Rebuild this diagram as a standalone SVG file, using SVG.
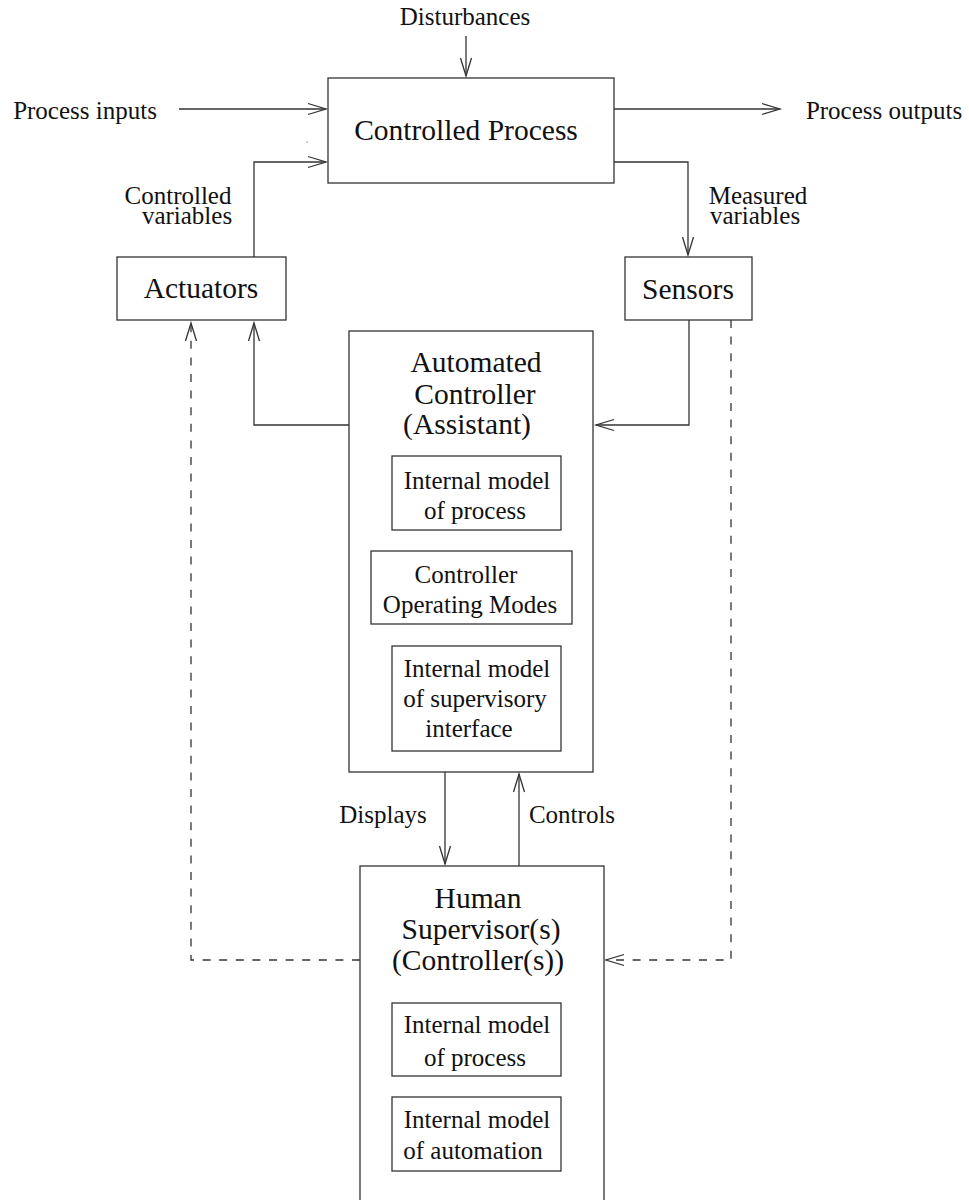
<svg xmlns="http://www.w3.org/2000/svg" width="969" height="1200" viewBox="0 0 969 1200">
<style>
text{font-family:"Liberation Serif","Times New Roman",serif;fill:#111;text-anchor:middle}
.big{font-size:29.5px}
.sm{font-size:25px}
.box{fill:#fff;stroke:#333;stroke-width:1.3}
.ln{fill:none;stroke:#333;stroke-width:1.3}
.dash{stroke-dasharray:8 8.6}
.ah{fill:none;stroke:#333;stroke-width:1.3;stroke-dasharray:none}
</style>
<defs>
<marker id="arr" markerUnits="userSpaceOnUse" markerWidth="24" markerHeight="16" refX="0" refY="0" viewBox="-20 -8 24 16" orient="auto" overflow="visible">
<path class="ah" d="M-18,-5.5 L0,0 L-18,5.5"/>
</marker>
</defs>
<rect width="969" height="1200" fill="#fff"/>

<g id="connectors">
<path class="ln" d="M466,36 V76" marker-end="url(#arr)"/>
<path class="ln" d="M179,109 H326" marker-end="url(#arr)"/>
<path class="ln" d="M614,109 H780" marker-end="url(#arr)"/>
<path class="ln" d="M254,257 V162 H326" marker-end="url(#arr)"/>
<path class="ln" d="M614,162 H688 V255" marker-end="url(#arr)"/>
<path class="ln" d="M349,425 H254 V323" marker-end="url(#arr)"/>
<path class="ln" d="M689,320 V425 H596" marker-end="url(#arr)"/>
<path class="ln" d="M445,772 V864" marker-end="url(#arr)"/>
<path class="ln" d="M519,866 V774" marker-end="url(#arr)"/>
<path class="ln dash" d="M360,960 H191 V323" marker-end="url(#arr)"/>
<path class="ln dash" d="M731,320 V960 H606" marker-end="url(#arr)"/>
<circle cx="307" cy="142" r="0.7" fill="#777"/>
</g>

<g id="labels">
<text class="sm" x="465" y="25">Disturbances</text>
<text class="sm" x="85" y="119">Process inputs</text>
<text class="sm" x="884" y="119">Process outputs</text>
<text class="sm" x="178" y="204">Controlled</text>
<text class="sm" x="187" y="224">variables</text>
<text class="sm" x="758" y="204">Measured</text>
<text class="sm" x="755" y="224">variables</text>
<text class="sm" x="383" y="823">Displays</text>
<text class="sm" x="572" y="823">Controls</text>
</g>

<g id="controlled-process">
<rect class="box" x="328" y="78" width="286" height="105"/>
<text class="big" x="466" y="140">Controlled Process</text>
</g>

<g id="actuators">
<rect class="box" x="117" y="257" width="169" height="63"/>
<text class="big" x="201" y="298">Actuators</text>
</g>

<g id="sensors">
<rect class="box" x="625" y="257" width="127" height="63"/>
<text class="big" x="688" y="299">Sensors</text>
</g>

<g id="automated-controller">
<rect class="box" x="349" y="331" width="244" height="441"/>
<text class="big" x="476" y="372">Automated</text>
<text class="big" x="475" y="404">Controller</text>
<text class="big" x="467" y="434">(Assistant)</text>
</g>

<g id="ac-model-process">
<rect class="box" x="392" y="456" width="169" height="74"/>
<text class="sm" x="477" y="489">Internal model</text>
<text class="sm" x="475" y="519">of process</text>
</g>

<g id="ac-operating-modes">
<rect class="box" x="371" y="551" width="201" height="73"/>
<text class="sm" x="466" y="583">Controller</text>
<text class="sm" x="470" y="613">Operating Modes</text>
</g>

<g id="ac-model-interface">
<rect class="box" x="392" y="646" width="169" height="105"/>
<text class="sm" x="477" y="677">Internal model</text>
<text class="sm" x="475" y="707">of supervisory</text>
<text class="sm" x="469" y="737">interface</text>
</g>

<g id="human-supervisor">
<rect class="box" x="360" y="866" width="244" height="345"/>
<text class="big" x="478" y="908">Human</text>
<text class="big" x="481" y="939">Supervisor(s)</text>
<text class="big" x="478" y="970">(Controller(s))</text>
</g>

<g id="hs-model-process">
<rect class="box" x="392" y="1003" width="169" height="73"/>
<text class="sm" x="477" y="1033">Internal model</text>
<text class="sm" x="475" y="1066">of process</text>
</g>

<g id="hs-model-automation">
<rect class="box" x="392" y="1097" width="169" height="74"/>
<text class="sm" x="477" y="1128">Internal model</text>
<text class="sm" x="473" y="1159">of automation</text>
</g>
</svg>
